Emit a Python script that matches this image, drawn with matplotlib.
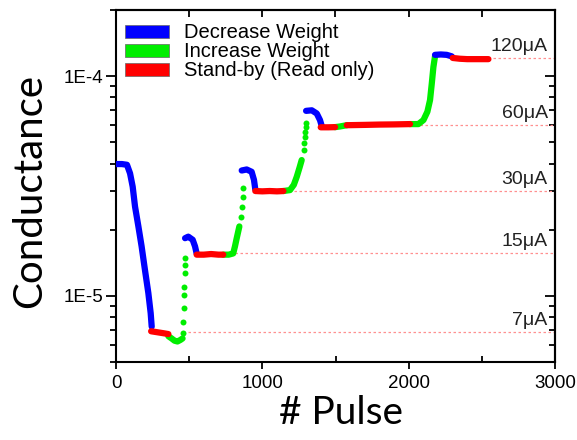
import matplotlib
matplotlib.use('Agg')
import matplotlib.pyplot as plt
import matplotlib.patches as mpatches
from matplotlib.ticker import FixedFormatter, FixedLocator, NullFormatter

plt.rcParams['font.family'] = ['Liberation Sans', 'DejaVu Sans']

# pulse number / conductance, one list pair per step
blue_x = [
    [0, 40, 75, 96, 114, 130, 153, 175, 198, 221, 237, 244],
    [472, 494, 524, 540, 551],
    [859, 893, 927, 943, 952],
    [1299, 1338, 1372, 1394, 1406],
    [2180, 2220, 2260, 2295],
]
blue_y = [
    [3.98e-5, 3.98e-5, 3.95e-5, 3.61e-5, 3.14e-5, 2.55e-5, 2.07e-5, 1.68e-5, 1.31e-5, 1.03e-5, 8.34e-6, 7.24e-6],
    [1.83e-5, 1.86e-5, 1.80e-5, 1.68e-5, 1.56e-5],
    [3.72e-5, 3.76e-5, 3.67e-5, 3.37e-5, 3.05e-5],
    [6.95e-5, 6.99e-5, 6.76e-5, 6.31e-5, 5.93e-5],
    [1.25e-4, 1.255e-4, 1.25e-4, 1.23e-4],
]

red_x = [
    [240, 270, 300, 330, 358],
    [551, 600, 650, 700, 733],
    [952, 1000, 1050, 1100, 1144],
    [1399, 1450, 1497],
    [1577, 1700, 1800, 1900, 2009],
    [2301, 2350, 2400, 2450, 2545],
]
red_y = [
    [6.9e-6, 6.85e-6, 6.8e-6, 6.75e-6, 6.7e-6],
    [1.54e-5, 1.54e-5, 1.55e-5, 1.54e-5, 1.54e-5],
    [3.0e-5, 2.99e-5, 3.0e-5, 2.99e-5, 3.0e-5],
    [5.85e-5, 5.85e-5, 5.86e-5],
    [5.98e-5, 6.0e-5, 6.02e-5, 6.03e-5, 6.05e-5],
    [1.21e-4, 1.20e-4, 1.195e-4, 1.195e-4, 1.195e-4],
]

# dense parts of the "increase" steps
green_x = [
    [358, 380, 400, 420, 440, 455],
    [733, 770, 801, 813, 825, 843],
    [1144, 1189, 1215, 1235, 1255, 1269],
    [1497, 1530, 1577],
    [2009, 2066, 2101, 2128, 2146, 2158, 2169, 2180],
]
green_y = [
    [6.55e-6, 6.4e-6, 6.25e-6, 6.2e-6, 6.3e-6, 6.4e-6],
    [1.54e-5, 1.54e-5, 1.56e-5, 1.68e-5, 1.83e-5, 2.07e-5],
    [3.0e-5, 3.03e-5, 3.2e-5, 3.48e-5, 3.85e-5, 4.15e-5],
    [5.86e-5, 5.9e-5, 5.98e-5],
    [6.05e-5, 6.05e-5, 6.31e-5, 6.89e-5, 7.78e-5, 9.26e-5, 1.10e-4, 1.23e-4],
]
# sparse single dots on the steep rises
green_dot_x = [458, 461, 463, 465, 467, 469, 471, 474,
               852, 859, 866, 870,
               1283, 1287, 1291, 1294, 1297, 1300]
green_dot_y = [6.77e-6, 7.64e-6, 8.79e-6, 1.01e-5, 1.10e-5, 1.27e-5, 1.38e-5, 1.48e-5,
               2.29e-5, 2.55e-5, 2.83e-5, 3.09e-5,
               4.61e-5, 4.94e-5, 5.30e-5, 5.58e-5, 5.89e-5, 6.09e-5]

levels = [6.85e-6, 1.57e-5, 3.0e-5, 5.98e-5, 1.21e-4]
level_start = [455, 780, 1150, 2010, 2545]
level_names = ['7μA', '15μA', '30μA', '60μA', '120μA']

fig = plt.figure(figsize=(5.77, 4.4), dpi=100)
ax = fig.add_axes([116/577, 78/440, 439/577, 352/440])

# reference levels
for lv, x0, name in zip(levels, level_start, level_names):
    ax.plot([x0, 3000], [lv, lv], color='#ff9090', lw=0.9, ls=(0, (2, 2)), zorder=1)
    ax.annotate(name, (2950, lv), xytext=(0, 5), textcoords='offset points',
                ha='right', va='baseline', fontsize=14, color='#222222')

lw = 4.5
for xs, ys in zip(green_x, green_y):
    ax.plot(xs, ys, color='#00ee00', lw=lw, solid_capstyle='round', solid_joinstyle='round', zorder=3)
ax.plot(green_dot_x, green_dot_y, 'o', color='#00ee00', ms=4.3, mew=0, zorder=3)
for xs, ys in zip(blue_x, blue_y):
    ax.plot(xs, ys, color='#0000ff', lw=lw, solid_capstyle='round', solid_joinstyle='round', zorder=4)
for xs, ys in zip(red_x, red_y):
    ax.plot(xs, ys, color='#ff0000', lw=lw, solid_capstyle='round', solid_joinstyle='round', zorder=4)

ax.set_xlim(0, 3000)
ax.set_yscale('log')
ax.set_ylim(5e-6, 2e-4)

ax.set_xticks([0, 1000, 2000, 3000])
ax.set_xticks([500, 1500, 2500], minor=True)
ax.tick_params(axis='x', which='major', direction='out', length=5, width=1.3, labelsize=13.5, pad=4)
ax.tick_params(axis='x', which='minor', direction='in', length=4, width=1.3)
ax.yaxis.set_major_locator(FixedLocator([1e-5, 1e-4]))
ax.yaxis.set_major_formatter(FixedFormatter(['1E-5', '1E-4']))
ax.yaxis.set_minor_formatter(NullFormatter())
ax.tick_params(axis='y', which='major', direction='out', length=7, width=1.3, labelsize=13.5, pad=2)
ax.tick_params(axis='y', which='minor', direction='out', length=4, width=1.3)

top = ax.secondary_xaxis('top')
top.set_xticks([500, 1000, 1500, 2000, 2500])
top.tick_params(direction='in', length=5, width=1.3, labeltop=False)
right = ax.secondary_yaxis('right')
right.yaxis.set_major_formatter(NullFormatter())
right.yaxis.set_minor_formatter(NullFormatter())
right.tick_params(which='major', direction='in', length=7, width=1.3)
right.tick_params(which='minor', direction='in', length=4, width=1.3)
for a in (ax, top, right):
    for sp in a.spines.values():
        sp.set_linewidth(1.5)

handles = [
    mpatches.Patch(facecolor='#0000ff', edgecolor='#666666', lw=0.5, label='Decrease Weight'),
    mpatches.Patch(facecolor='#00ee00', edgecolor='#666666', lw=0.5, label='Increase Weight'),
    mpatches.Patch(facecolor='#ff0000', edgecolor='#666666', lw=0.5, label='Stand-by (Read only)'),
]
ax.legend(handles=handles, loc='upper left', bbox_to_anchor=(0.02, 0.962), frameon=False,
          fontsize=14.5, handlelength=2.2, handleheight=0.6, handletextpad=0.75,
          labelspacing=0.0, borderpad=0, borderaxespad=0)

fig.text(341/577, 1 - 413/440, '# Pulse', family='Lato', fontsize=28, ha='center', va='center')
fig.text(30/577, 1 - 191/440, 'Conductance', family='Lato', fontsize=29, rotation=90,
         ha='center', va='center')

fig.savefig('out.png', dpi=100)
